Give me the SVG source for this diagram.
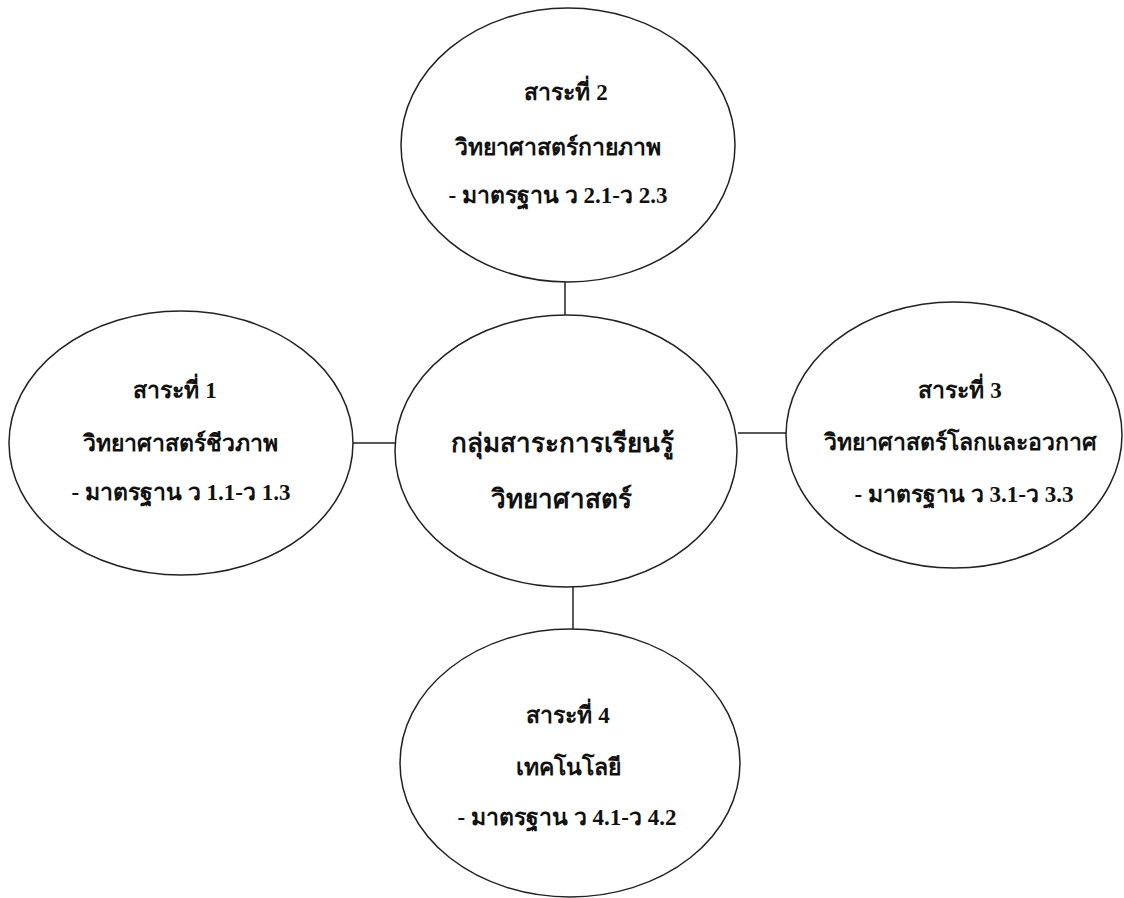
<svg xmlns="http://www.w3.org/2000/svg" width="1124" height="898" viewBox="0 0 1124 898">
<style>
.node ellipse{fill:#fff;stroke:#222;stroke-width:1.5}
.conn line{stroke:#222;stroke-width:1.5}
text{font-family:"Liberation Serif","DejaVu Serif","DejaVu Sans",serif;font-weight:bold;font-size:23px;fill:#111;text-anchor:middle}
.big{font-size:26px}
</style>
<rect width="1124" height="898" fill="#fff"/>
<g id="connectors" class="conn">
<line x1="565" y1="282" x2="565" y2="315"/>
<line x1="352" y1="443" x2="395" y2="443"/>
<line x1="738" y1="433" x2="786" y2="433"/>
<line x1="573" y1="587" x2="573" y2="630"/>
</g>
<g id="node-top" class="node">
<ellipse cx="568" cy="145" rx="167" ry="137"/>
<text x="566" y="100">สาระที่ 2</text>
<text x="558" y="155">วิทยาศาสตร์กายภาพ</text>
<text x="558" y="203">- มาตรฐาน ว 2.1-ว 2.3</text>
</g>
<g id="node-left" class="node">
<ellipse cx="181" cy="443" rx="172" ry="132"/>
<text x="175" y="398">สาระที่ 1</text>
<text x="180" y="451">วิทยาศาสตร์ชีวภาพ</text>
<text x="181" y="500">- มาตรฐาน ว 1.1-ว 1.3</text>
</g>
<g id="node-center" class="node">
<ellipse cx="566" cy="451" rx="171" ry="136"/>
<text class="big" x="562" y="452">กลุ่มสาระการเรียนรู้</text>
<text class="big" x="561" y="508">วิทยาศาสตร์</text>
</g>
<g id="node-right" class="node">
<ellipse cx="954" cy="435" rx="168" ry="133"/>
<text x="960" y="398">สาระที่ 3</text>
<text x="960" y="450">วิทยาศาสตร์โลกและอวกาศ</text>
<text x="964" y="502">- มาตรฐาน ว 3.1-ว 3.3</text>
</g>
<g id="node-bottom" class="node">
<ellipse cx="570" cy="763" rx="170" ry="134"/>
<text x="568" y="723">สาระที่ 4</text>
<text x="568" y="775">เทคโนโลยี</text>
<text x="567" y="825">- มาตรฐาน ว 4.1-ว 4.2</text>
</g>
</svg>
